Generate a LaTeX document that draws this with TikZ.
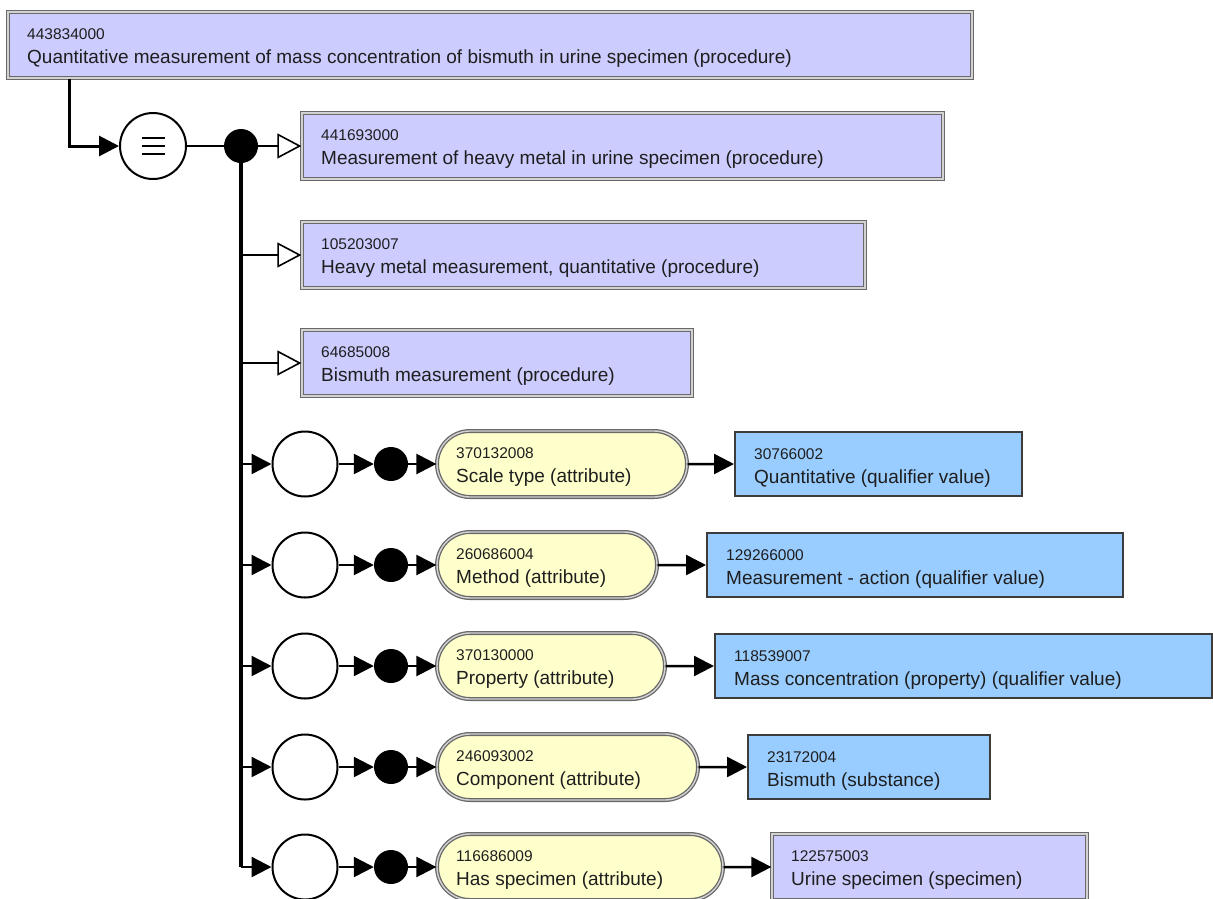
\documentclass[tikz,border=0pt]{standalone}
\usepackage{fontspec}
\setmainfont{Liberation Sans}
\usetikzlibrary{arrows.meta,shapes.misc,calc}
\definecolor{lav}{RGB}{204,204,255}
\definecolor{lavborder}{RGB}{105,105,105}
\definecolor{gapgray}{RGB}{210,210,210}
\definecolor{yel}{RGB}{255,255,204}
\definecolor{blu}{RGB}{153,204,255}
\definecolor{bluborder}{RGB}{60,60,60}
\definecolor{txt}{RGB}{30,30,30}
\tikzset{
  lavbox/.style={rectangle, fill=lav, draw=lavborder, line width=1.3pt, double=gapgray, double distance=1.4pt, inner sep=0pt},
  yelbox/.style={rounded rectangle, fill=yel, draw=lavborder, line width=1.3pt, double=gapgray, double distance=1.4pt, inner sep=0pt},
  blubox/.style={rectangle, fill=blu, draw=bluborder, line width=2pt, inner sep=0pt},
  codetext/.style={anchor=base west, inner sep=0pt, text=txt, font=\fontsize{15.5}{18}\selectfont},
  labeltext/.style={anchor=base west, inner sep=0pt, text=txt, font=\fontsize{19}{22}\selectfont},
  ring/.style={circle, draw=black, line width=2pt, fill=white, minimum size=65pt, inner sep=0pt},
  blob/.style={circle, fill=black, minimum size=34pt, inner sep=0pt},
  conn/.style={line width=2.5pt, -{Triangle[length=20pt,width=20pt]}},
  isa/.style={line width=2.5pt, -{Triangle[length=24pt,width=25pt,fill=white,line width=1.6pt]}},
}
\newcommand{\concept}[8]{%
  \node[#2, minimum width=#5pt, minimum height=#6pt] (#1) at ({#3+#5/2},{#4+#6/2}) {};
  \node[codetext] (#1c) at ({#3+19},{#4+27}) {#7};
  \node[labeltext] (#1l) at ({#3+19},{#4+51}) {#8};
}
\begin{document}
\begin{tikzpicture}[x=1pt,y=-1pt]
\fill[white] (0,0) rectangle (1213,898);
\useasboundingbox (0,0) rectangle (1213,898);

% focus concept and supertypes
\concept{top}{lavbox}{8}{12}{964}{66}{443834000}{Quantitative measurement of mass concentration of bismuth in urine specimen (procedure)}
\concept{b1}{lavbox}{302}{113}{641}{66}{441693000}{Measurement of heavy metal in urine specimen (procedure)}
\concept{b2}{lavbox}{302}{222}{563}{66}{105203007}{Heavy metal measurement, quantitative (procedure)}
\concept{b3}{lavbox}{302}{330}{390}{66}{64685008}{Bismuth measurement (procedure)}

\node[ring, minimum size=66pt] (eq) at (153,146) {};
\foreach \dy in {-8,0,8}
  \draw[line width=2.5pt] ($(eq.center)+(-11.5,\dy)$) -- ($(eq.center)+(11.5,\dy)$);
\node[blob] (dot) at (241,146) {};

% attribute rows
\node[ring] (c1) at (305,464) {};
\node[blob] (d1) at (391,464) {};
\concept{a1}{yelbox}{437}{431}{250}{66}{370132008}{Scale type (attribute)}
\concept{v1}{blubox}{735}{432}{287}{64}{30766002}{Quantitative (qualifier value)}

\node[ring] (c2) at (305,565) {};
\node[blob] (d2) at (391,565) {};
\concept{a2}{yelbox}{437}{532}{220}{66}{260686004}{Method (attribute)}
\concept{v2}{blubox}{707}{533}{416}{64}{129266000}{Measurement - action (qualifier value)}

\node[ring] (c3) at (305,666) {};
\node[blob] (d3) at (391,666) {};
\concept{a3}{yelbox}{437}{633}{228}{66}{370130000}{Property (attribute)}
\concept{v3}{blubox}{715}{634}{497}{64}{118539007}{Mass concentration (property) (qualifier value)}

\node[ring] (c4) at (305,767) {};
\node[blob] (d4) at (391,767) {};
\concept{a4}{yelbox}{437}{734}{261}{66}{246093002}{Component (attribute)}
\concept{v4}{blubox}{748}{735}{242}{64}{23172004}{Bismuth (substance)}

\node[ring] (c5) at (305,867) {};
\node[blob] (d5) at (391,867) {};
\concept{a5}{yelbox}{437}{834}{286}{66}{116686009}{Has specimen (attribute)}
\concept{v5}{lavbox}{772}{834}{315}{66}{122575003}{Urine specimen (specimen)}

% connectors
\draw[line width=3pt, -{Triangle[length=20pt,width=20pt]}] ($(top.south west)+(62,0)$) |- (eq.west);
\draw[line width=1.5pt] (eq) -- (dot);
\draw[isa] (dot) -- (dot -| b1.west);
\draw[line width=4pt] (dot.center) -- (dot.center |- c5);
\draw[isa] (dot.center |- b2.west) -- (b2.west);
\draw[isa] (dot.center |- b3.west) -- (b3.west);
\foreach \i in {1,...,5}{
  \draw[conn] (dot.center |- c\i) -- (c\i);
  \draw[conn] (c\i) -- (d\i);
  \draw[conn] (d\i) -- (a\i);
  \draw[conn] (a\i) -- (v\i);
}
\end{tikzpicture}
\end{document}
